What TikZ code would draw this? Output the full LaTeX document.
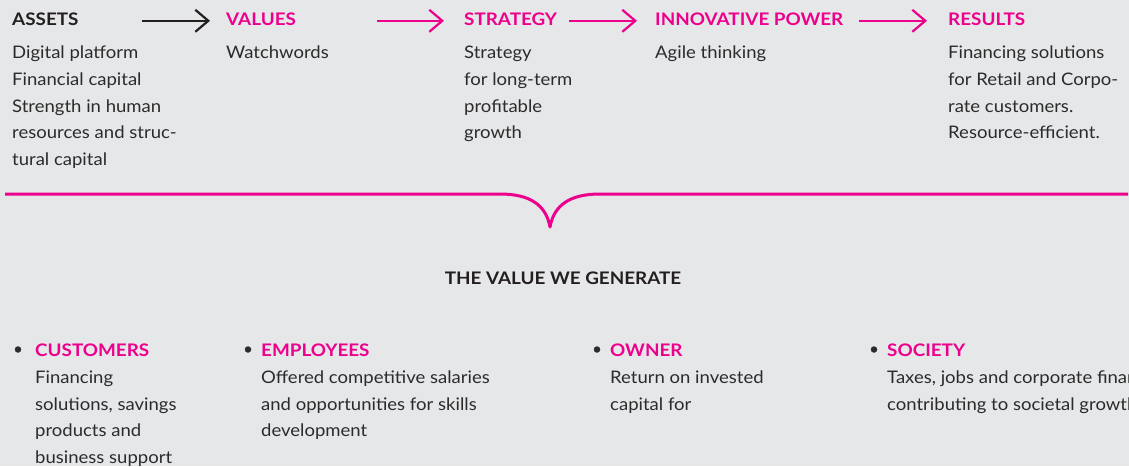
\documentclass[tikz,border=0pt]{standalone}
\usepackage{fontspec}
\setmainfont{Lato}[FakeStretch=1.07]
\newfontfamily\headfont{Lato}[FakeStretch=1.09]
\usetikzlibrary{arrows.meta}
\definecolor{bg}{HTML}{E6E7E9}
\definecolor{pinkc}{HTML}{EC008C}
\definecolor{darkc}{HTML}{2B2B2B}
\definecolor{headc}{HTML}{231F20}
\tikzset{
  head/.style={anchor=base west, inner sep=0pt, text=pinkc, font=\headfont\bfseries\fontsize{17.3}{20}\selectfont},
  body/.style={anchor=north west, inner sep=0pt, align=left, text=darkc, font=\fontsize{17.3}{26.6}\selectfont},
  flow/.style={line width=2.2pt, -{Straight Barb[length=13pt,width=22pt,line width=2.2pt]}},
  bulletdot/.style={circle, fill=darkc, inner sep=0pt, minimum size=6.5pt},
}
\begin{document}
\begin{tikzpicture}[x=1pt,y=-1pt]
\fill[bg] (0,0) rectangle (1129,466);
\useasboundingbox (0,0) rectangle (1129,466);
\clip (0,0) rectangle (1129,466);
% top row headings
\node[head, text=headc] (assets) at (12,25.7) {ASSETS};
\node[head] (values) at (226,25.7) {VALUES};
\node[head] (strategy) at (464,25.7) {STRATEGY};
\node[head] (innov) at (655,25.7) {INNOVATIVE POWER};
\node[head] (results) at (948,25.7) {RESULTS};
% top row bodies
\node[body] (assetsb) at (12,40.1) {\strut Digital platform\\Financial capital\\Strength in human\\resources and struc-\\tural capital};
\node[body] (valuesb) at (226,40.1) {\strut Watchwords};
\node[body] (strategyb) at (464,40.1) {\strut Strategy\\for long-term\\profitable\\growth};
\node[body] (innovb) at (655,40.1) {\strut Agile thinking};
\node[body] (resultsb) at (948,40.1) {\strut Financing solutions\\for Retail and Corpo-\\rate customers.\\Resource-efficient.};
% arrows
\coordinate (a1s) at (142,20.8); \coordinate (a1e) at (210,20.8);
\coordinate (a2s) at (377,20.8); \coordinate (a2e) at (444,20.8);
\coordinate (a3s) at (569,20.8); \coordinate (a3e) at (637,20.8);
\coordinate (a4s) at (859,20.8); \coordinate (a4e) at (927,20.8);
\draw[flow, draw=headc] (a1s) -- (a1e);
\draw[flow, draw=pinkc] (a2s) -- (a2e);
\draw[flow, draw=pinkc] (a3s) -- (a3e);
\draw[flow, draw=pinkc] (a4s) -- (a4e);
% brace
\coordinate (bl) at (5,194);
\coordinate (br) at (1128,194);
\coordinate (tip) at (550,227);
\draw[pinkc, line width=3pt, line join=round] (bl) -- (500,194) .. controls (530,194) and (546,205) .. (tip) .. controls (554,205) and (570,194) .. (600,194) -- (br);
% title
\node[anchor=base, inner sep=0pt, text=headc, font=\headfont\bfseries\fontsize{17.3}{20}\selectfont] (title) at (563,284.3) {THE VALUE WE GENERATE};
% bottom row
\node[bulletdot] (d1) at (18,349.5) {};
\node[bulletdot] (d2) at (248,349.5) {};
\node[bulletdot] (d3) at (597,349.5) {};
\node[bulletdot] (d4) at (874,349.5) {};
\node[head] (cust) at (35,356) {CUSTOMERS};
\node[head] (empl) at (261,356) {EMPLOYEES};
\node[head] (owner) at (610,356) {OWNER};
\node[head] (soc) at (887,356) {SOCIETY};
\node[body] (custb) at (35,364.7) {\strut Financing\\solutions, savings\\products and\\business support};
\node[body] (emplb) at (261,364.7) {\strut Offered competitive salaries\\and opportunities for skills\\development};
\node[body] (ownerb) at (610,364.7) {\strut Return on invested\\capital for};
\node[body] (socb) at (887,364.7) {\strut Taxes, jobs and corporate financing\\contributing to societal growth};
\end{tikzpicture}
\end{document}
